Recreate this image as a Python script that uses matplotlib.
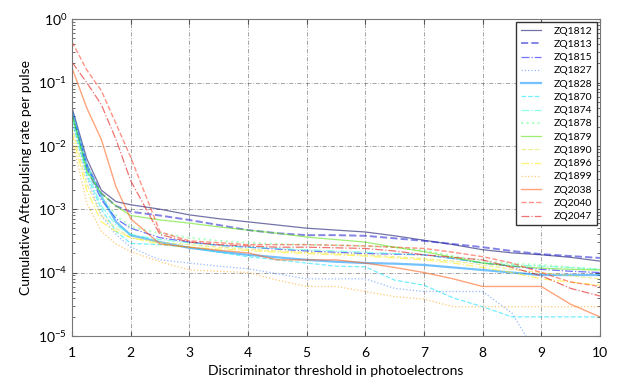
import numpy as np
import matplotlib
matplotlib.use('Agg')
import matplotlib.pyplot as plt

plt.rcParams['font.family'] = ['Lato', 'DejaVu Sans']

# threshold (photoelectrons)
x = [1, 1.25, 1.5, 1.75, 2, 2.5, 3, 3.5, 4, 4.5, 5, 5.5, 6, 6.5, 7, 7.5, 8, 8.5, 9, 9.5, 10]

# log10 of cumulative afterpulsing rate
zq1812 = [-1.40, -2.20, -2.70, -2.88, -2.93, -3.00, -3.09, -3.15, -3.20, -3.25, -3.30, -3.33, -3.36, -3.42, -3.49, -3.56, -3.64, -3.69, -3.72, -3.76, -3.82]
zq1813 = [-1.50, -2.30, -2.75, -2.95, -3.04, -3.10, -3.17, -3.25, -3.33, -3.38, -3.41, -3.41, -3.42, -3.46, -3.50, -3.55, -3.60, -3.66, -3.71, -3.74, -3.77]
zq1815 = [-1.50, -2.35, -2.85, -3.15, -3.30, -3.45, -3.52, -3.57, -3.60, -3.63, -3.66, -3.68, -3.70, -3.71, -3.72, -3.78, -3.85, -3.90, -3.95, -3.98, -4.00]
zq1827 = [-1.60, -2.50, -3.10, -3.40, -3.60, -3.80, -3.85, -3.90, -3.94, -4.02, -4.10, -4.10, -4.10, -4.25, -4.30, -4.30, -4.30, -4.64, -5.40, np.nan, np.nan]
zq1828 = [-1.45, -2.30, -2.80, -3.20, -3.41, -3.52, -3.61, -3.67, -3.72, -3.76, -3.80, -3.83, -3.85, -3.86, -3.88, -3.92, -3.96, -4.00, -4.04, -4.04, -4.04]
zq1870 = [-1.60, -2.45, -3.00, -3.35, -3.54, -3.56, -3.60, -3.68, -3.75, -3.80, -3.85, -3.90, -3.91, -4.12, -4.20, -4.40, -4.54, -4.70, -4.70, -4.70, -4.70]
zq1874 = [-1.55, -2.40, -2.95, -3.25, -3.40, -3.48, -3.53, -3.57, -3.60, -3.62, -3.64, -3.66, -3.68, -3.70, -3.72, -3.78, -3.85, -3.88, -3.90, -3.92, -3.95]
zq1878 = [-1.50, -2.30, -2.80, -3.10, -3.28, -3.38, -3.45, -3.50, -3.53, -3.55, -3.56, -3.57, -3.58, -3.60, -3.65, -3.74, -3.82, -3.86, -3.88, -3.92, -3.95]
zq1879 = [-1.50, -2.40, -2.75, -2.95, -3.10, -3.17, -3.22, -3.28, -3.33, -3.38, -3.44, -3.48, -3.52, -3.60, -3.67, -3.76, -3.85, -3.90, -3.93, -3.95, -3.96]
zq1890 = [-1.70, -2.60, -3.10, -3.30, -3.45, -3.52, -3.56, -3.60, -3.63, -3.66, -3.68, -3.70, -3.72, -3.75, -3.78, -3.82, -3.88, -3.95, -4.00, -4.05, -4.10]
zq1896 = [-1.80, -2.70, -3.20, -3.35, -3.45, -3.55, -3.60, -3.63, -3.65, -3.68, -3.70, -3.72, -3.74, -3.77, -3.80, -3.85, -3.92, -4.00, -4.10, -4.15, -4.20]
zq1899 = [-1.90, -2.90, -3.35, -3.55, -3.67, -3.83, -3.96, -3.98, -4.00, -4.12, -4.22, -4.22, -4.30, -4.38, -4.42, -4.54, -4.54, -4.54, -4.54, -4.54, -4.54]
zq2038 = [-0.77, -1.40, -1.90, -2.65, -3.15, -3.55, -3.60, -3.65, -3.69, -3.80, -3.80, -3.80, -3.85, -3.92, -4.00, -4.10, -4.22, -4.22, -4.22, -4.50, -4.70]
zq2040 = [-0.36, -0.80, -1.13, -1.65, -2.18, -3.36, -3.50, -3.53, -3.56, -3.56, -3.56, -3.57, -3.58, -3.60, -3.62, -3.68, -3.75, -3.85, -4.00, -4.15, -4.22]
zq2047 = [-0.68, -1.00, -1.35, -1.90, -2.55, -3.40, -3.52, -3.56, -3.58, -3.60, -3.60, -3.61, -3.62, -3.66, -3.72, -3.76, -3.80, -3.92, -4.05, -4.25, -4.37]

noms = ['ZQ1812', 'ZQ1813', 'ZQ1815', 'ZQ1827', 'ZQ1828', 'ZQ1870', 'ZQ1874', 'ZQ1878',
        'ZQ1879', 'ZQ1890', 'ZQ1896', 'ZQ1899', 'ZQ2038', 'ZQ2040', 'ZQ2047']
series = [zq1812, zq1813, zq1815, zq1827, zq1828, zq1870, zq1874, zq1878,
          zq1879, zq1890, zq1896, zq1899, zq2038, zq2040, zq2047]
couleurs = ['#000060', '#2020d0', '#0000ff', '#4080ff', '#0090ff', '#00e0ff', '#30ffd0', '#70ff90',
            '#50e000', '#e0e040', '#ffee00', '#ffa000', '#ff5a10', '#ff3a20', '#e00000']
styles = ['-', '--', '-.', ':']
epaisseurs = [0.9, 1.4, 0.9, 0.9, 1.6, 0.9, 0.9, 1.5, 0.9, 0.9, 0.9, 0.9, 1.0, 1.0, 0.9]

fig = plt.figure(figsize=(6.21, 3.91), dpi=100)
ax = fig.add_axes([0.116, 0.141, 0.85, 0.81])
for i in range(len(series)):
    ax.plot(x, 10 ** np.array(series[i]), color=couleurs[i], linestyle=styles[i % 4],
            linewidth=epaisseurs[i], alpha=0.55, label=noms[i])

ax.set_yscale('log')
ax.set_xlim(1, 10)
ax.set_ylim(1e-5, 1)
ax.set_xticks(range(1, 11))
ax.grid(True, which='major', color='#666666', linestyle=(0, (5, 2, 1, 2)), linewidth=0.6, alpha=0.7)
ax.tick_params(which='both', direction='in', top=True, right=True, colors='#555555', labelcolor='black', labelsize=10)
ax.tick_params(axis='x', pad=8)
for s in ax.spines.values():
    s.set_color('#777777')
ax.set_xlabel('Discriminator threshold in photoelectrons', fontsize=10)
ax.set_ylabel('Cumulative Afterpulsing rate per pulse', fontsize=10)
leg = ax.legend(loc='upper right', fontsize=7.5, fancybox=False, framealpha=1,
                borderaxespad=0.3, handlelength=2.0, handletextpad=1.2, labelspacing=0.38)
leg.get_frame().set_edgecolor('#333333')
fig.savefig('out.png', dpi=100)
